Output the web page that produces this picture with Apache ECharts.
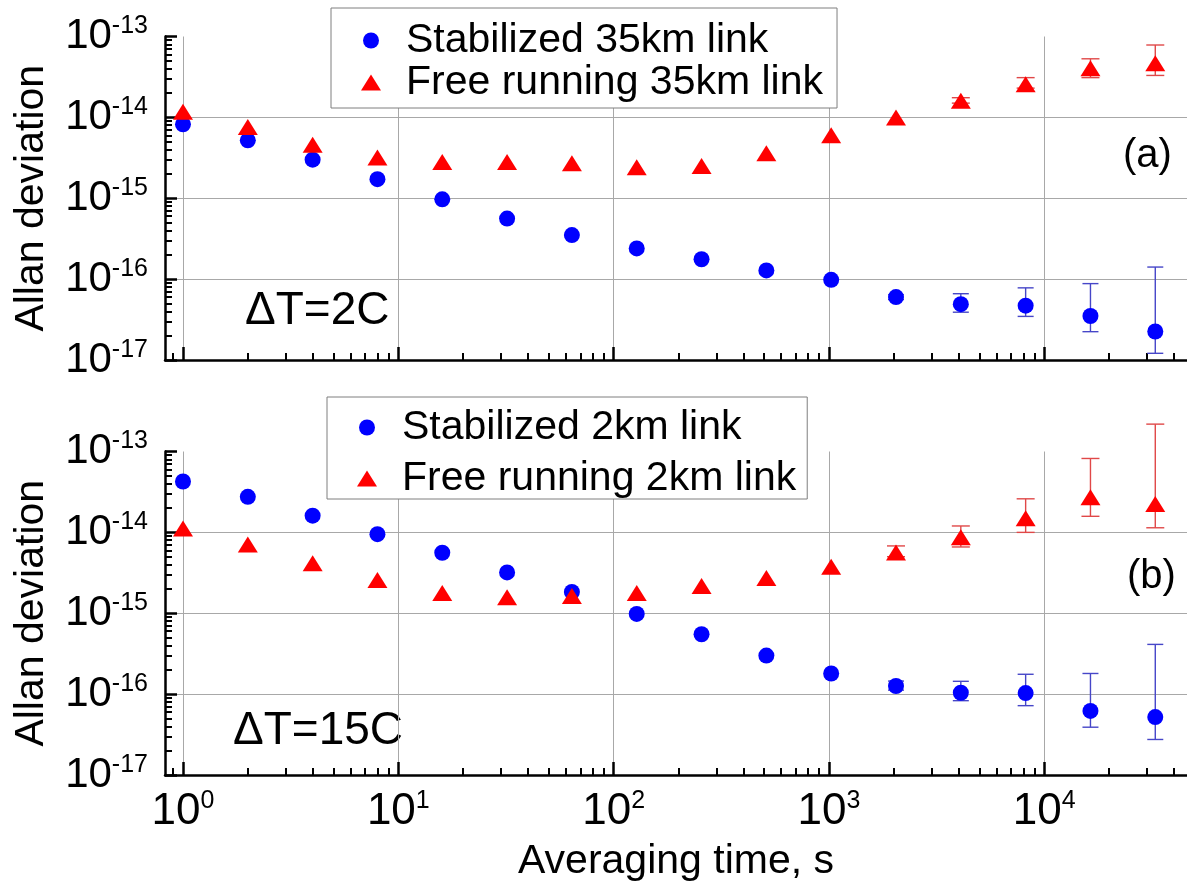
<!DOCTYPE html>
<html>
<head>
<meta charset="utf-8">
<script src="https://cdn.jsdelivr.net/npm/echarts@6/dist/echarts.min.js"></script>
<style>
  html, body { margin: 0; padding: 0; background: #fff; }
  #chart { width: 1187px; height: 893px; }
</style>
</head>
<body>
<div id="chart"></div>
<script>
// averaging time, s
const tau = [1, 2, 4, 8, 16, 32, 64, 128, 256, 512, 1024, 2048, 4096, 8192, 16384, 32768];

// (a) 35 km link
const stab35 = [8.2e-15, 5.2e-15, 3.0e-15, 1.72e-15, 9.7e-16, 5.6e-16, 3.5e-16, 2.4e-16, 1.76e-16, 1.28e-16,
                9.8e-17, 6.0e-17, 4.9e-17, 4.7e-17, 3.5e-17, 2.25e-17];
const free35 = [1.17e-14, 7.6e-15, 4.6e-15, 3.2e-15, 2.8e-15, 2.8e-15, 2.7e-15, 2.42e-15, 2.5e-15, 3.6e-15,
                6.0e-15, 1.0e-14, 1.6e-14, 2.57e-14, 4.04e-14, 4.66e-14];
// error bars: [tau, low, high]
const stab35Err = [[2048, 5.6e-17, 6.4e-17], [4096, 3.9e-17, 6.6e-17], [8192, 3.46e-17, 7.8e-17],
                   [16384, 2.24e-17, 8.8e-17], [32768, 1.21e-17, 1.41e-16]];
const free35Err = [[4096, 1.5e-14, 1.75e-14], [8192, 2.3e-14, 3.1e-14], [16384, 3.1e-14, 5.3e-14],
                   [32768, 3.3e-14, 7.85e-14]];

// (b) 2 km link
const stab2 = [4.26e-14, 2.75e-14, 1.61e-14, 9.5e-15, 5.6e-15, 3.2e-15, 1.83e-15, 9.8e-16, 5.5e-16, 3.0e-16,
               1.8e-16, 1.26e-16, 1.04e-16, 1.03e-16, 6.2e-17, 5.2e-17];
const free2 = [1.12e-14, 7.1e-15, 4.15e-15, 2.57e-15, 1.78e-15, 1.58e-15, 1.63e-15, 1.78e-15, 2.18e-15, 2.72e-15,
               3.77e-15, 5.63e-15, 8.7e-15, 1.5e-14, 2.72e-14, 2.25e-14];
const stab2Err = [[2048, 1.12e-16, 1.45e-16], [4096, 8.3e-17, 1.44e-16], [8192, 7.2e-17, 1.76e-16],
                  [16384, 3.9e-17, 1.8e-16], [32768, 2.75e-17, 4.12e-16]];
const free2Err = [[2048, 5.0e-15, 6.8e-15], [4096, 6.6e-15, 1.2e-14], [8192, 1.0e-14, 2.6e-14],
                  [16384, 1.58e-14, 8.2e-14], [32768, 1.14e-14, 2.18e-13]];

// tick exponents
const xTickExp = [0, 1, 2, 3, 4];
const yTickExp = [-17, -16, -15, -14, -13];

const FONT = '"Liberation Sans", Arial, sans-serif';
const X_MIN = 0.825, X_MAX = 46000;
const Y_MIN = 1e-17, Y_MAX = 1e-13;
// log scale of echarts rounds tiny numbers to 0, so feed it values in units of 1e-17
const Y_SCALE = 1e17;

function minorTicks(from, to) {
  let out = [];
  for (let n = from; n < to; n++) {
    for (let k = 2; k <= 9; k++) out.push(n + Math.log10(k));
  }
  return out;
}

const grids = [
  {left: 165, right: 0, top: 36.5, height: 323.5, outerBoundsMode: 'none'},
  {left: 165, right: 0, top: 451.5, height: 323.5, outerBoundsMode: 'none'}
];

let xAxes = [], yAxes = [];
grids.forEach(function (g, i) {
  xAxes.push({
    type: 'log', gridIndex: i, min: X_MIN, max: X_MAX, position: 'bottom',
    axisLine: {show: false, onZero: false}, axisTick: {show: false},
    splitLine: {show: true, showMinLine: false, showMaxLine: false, lineStyle: {color: '#a8a8a8', width: 1}},
    axisLabel: {
      show: i === 1, showMinLabel: false, showMaxLabel: false, margin: 15,
      formatter: v => '{b|10}{s|' + Math.round(Math.log10(v)) + '}',
      rich: {
        b: {fontSize: 44, fontFamily: FONT, color: '#000', lineHeight: 44},
        s: {fontSize: 25, fontFamily: FONT, color: '#000', lineHeight: 25, padding: [0, 0, 22, 0]}
      }
    },
    name: i === 1 ? 'Averaging time, s' : '', nameLocation: 'middle', nameGap: 66,
    nameTextStyle: {fontSize: 41, fontFamily: FONT, color: '#000'}
  });
  xAxes.push({
    type: 'value', gridIndex: i, min: Math.log10(X_MIN), max: Math.log10(X_MAX), position: 'bottom',
    axisLine: {show: true, onZero: false, lineStyle: {color: '#000', width: 2.5}},
    axisTick: {show: true, inside: true, length: 13, customValues: xTickExp, lineStyle: {color: '#000', width: 2.5}},
    axisLabel: {show: false}, splitLine: {show: false}
  });
  xAxes.push({
    type: 'value', gridIndex: i, min: Math.log10(X_MIN), max: Math.log10(X_MAX), position: 'bottom',
    axisLine: {show: false, onZero: false},
    axisTick: {show: true, inside: true, length: 7, customValues: minorTicks(-1, 5), lineStyle: {color: '#000', width: 2}},
    axisLabel: {show: false}, splitLine: {show: false}
  });

  yAxes.push({
    type: 'log', gridIndex: i, min: Y_MIN * Y_SCALE, max: Y_MAX * Y_SCALE, position: 'left',
    axisLine: {show: false, onZero: false}, axisTick: {show: false},
    splitLine: {show: true, showMinLine: false, showMaxLine: false, lineStyle: {color: '#a8a8a8', width: 1}},
    axisLabel: {
      margin: 17,
      formatter: v => '{b|10}{s|' + Math.round(Math.log10(v / Y_SCALE)) + '}',
      rich: {
        b: {fontSize: 42, fontFamily: FONT, color: '#000', lineHeight: 42},
        s: {fontSize: 25, fontFamily: FONT, color: '#000', lineHeight: 25, padding: [0, 0, 20, 0]}
      }
    },
    name: 'Allan deviation', nameLocation: 'middle', nameGap: 113,
    nameTextStyle: {fontSize: 41, fontFamily: FONT, color: '#000'}
  });
  yAxes.push({
    type: 'value', gridIndex: i, min: -17, max: -13, position: 'left',
    axisLine: {show: true, onZero: false, lineStyle: {color: '#000', width: 2.5}},
    axisTick: {show: true, inside: true, length: 12, customValues: yTickExp, lineStyle: {color: '#000', width: 2.5}},
    axisLabel: {show: false}, splitLine: {show: false}
  });
  yAxes.push({
    type: 'value', gridIndex: i, min: -17, max: -13, position: 'left',
    axisLine: {show: false, onZero: false},
    axisTick: {show: true, inside: true, length: 7, customValues: minorTicks(-17, -13), lineStyle: {color: '#000', width: 2}},
    axisLabel: {show: false}, splitLine: {show: false}
  });
});

function points(vals) {
  return tau.map((t, i) => [t, vals[i] * Y_SCALE]);
}

function errorBar(color, cap) {
  return function (params, api) {
    const x = api.value(0);
    const lo = api.coord([x, api.value(1)]);
    const hi = api.coord([x, api.value(2)]);
    const st = {stroke: color, lineWidth: 1.4};
    return {
      type: 'group',
      children: [
        {type: 'line', shape: {x1: lo[0], y1: lo[1], x2: hi[0], y2: hi[1]}, style: st},
        {type: 'line', shape: {x1: lo[0] - cap, y1: lo[1], x2: lo[0] + cap, y2: lo[1]}, style: st},
        {type: 'line', shape: {x1: hi[0] - cap, y1: hi[1], x2: hi[0] + cap, y2: hi[1]}, style: st}
      ]
    };
  };
}

function errSeries(err, axis, color, cap) {
  return {
    type: 'custom', xAxisIndex: axis, yAxisIndex: axis, clip: false, silent: true, z: 2,
    renderItem: errorBar(color, cap),
    encode: {x: 0, y: [1, 2]},
    data: err.map(e => [e[0], e[1] * Y_SCALE, e[2] * Y_SCALE])
  };
}

const BLUE = '#0000ff', RED = '#ff0000';
const TRI_ICON = 'path://M10,0L20,16L0,16Z';

function dots(name, vals, axis) {
  return {
    name: name, type: 'scatter', xAxisIndex: axis, yAxisIndex: axis, z: 3,
    symbol: 'circle', symbolSize: 16, itemStyle: {color: BLUE, opacity: 1},
    data: points(vals)
  };
}
function tris(name, vals, axis) {
  return {
    name: name, type: 'scatter', xAxisIndex: axis, yAxisIndex: axis, z: 3,
    symbol: 'triangle', symbolSize: [20, 16], itemStyle: {color: RED, opacity: 1},
    data: points(vals)
  };
}

const legendBase = {
  orient: 'vertical', itemWidth: 60, itemHeight: 16, selectedMode: false,
  borderColor: '#7f7f7f', borderWidth: 1, backgroundColor: '#fff',
  textStyle: {fontSize: 41, fontFamily: FONT, color: '#000', lineHeight: 40}
};

const chart = echarts.init(document.getElementById('chart'), null, {renderer: 'canvas'});
chart.setOption({
  animation: false,
  backgroundColor: '#fff',
  grid: grids,
  xAxis: xAxes,
  yAxis: yAxes,
  legend: [
    Object.assign({}, legendBase, {
      left: 331, top: 8, padding: [12, 14, 5, 30], itemGap: 1,
      data: [{name: 'Stabilized 35km link', icon: 'circle'}, {name: 'Free running 35km link', icon: TRI_ICON}]
    }),
    Object.assign({}, legendBase, {
      left: 327, top: 397, padding: [10, 11, 0, 30], itemGap: 10,
      data: [{name: 'Stabilized 2km link', icon: 'circle'}, {name: 'Free running 2km link', icon: TRI_ICON}]
    })
  ],
  graphic: [
    {type: 'text', x: 245, y: 311, style: {text: 'ΔT=2C', fontSize: 46, fontFamily: FONT, fill: '#000', verticalAlign: 'middle'}},
    {type: 'text', x: 1123, y: 156, style: {text: '(a)', fontSize: 40, fontFamily: FONT, fill: '#000', verticalAlign: 'middle'}},
    {type: 'text', x: 233, y: 731, style: {text: 'ΔT=15C', fontSize: 46, fontFamily: FONT, fill: '#000', verticalAlign: 'middle'}},
    {type: 'text', x: 1127, y: 577, style: {text: '(b)', fontSize: 40, fontFamily: FONT, fill: '#000', verticalAlign: 'middle'}}
  ],
  series: [
    errSeries(stab35Err, 0, '#4646c8', 8),
    errSeries(free35Err, 0, '#e04848', 9),
    dots('Stabilized 35km link', stab35, 0),
    tris('Free running 35km link', free35, 0),
    errSeries(stab2Err, 3, '#4646c8', 8),
    errSeries(free2Err, 3, '#e04848', 9),
    dots('Stabilized 2km link', stab2, 3),
    tris('Free running 2km link', free2, 3)
  ]
});
</script>
</body>
</html>
